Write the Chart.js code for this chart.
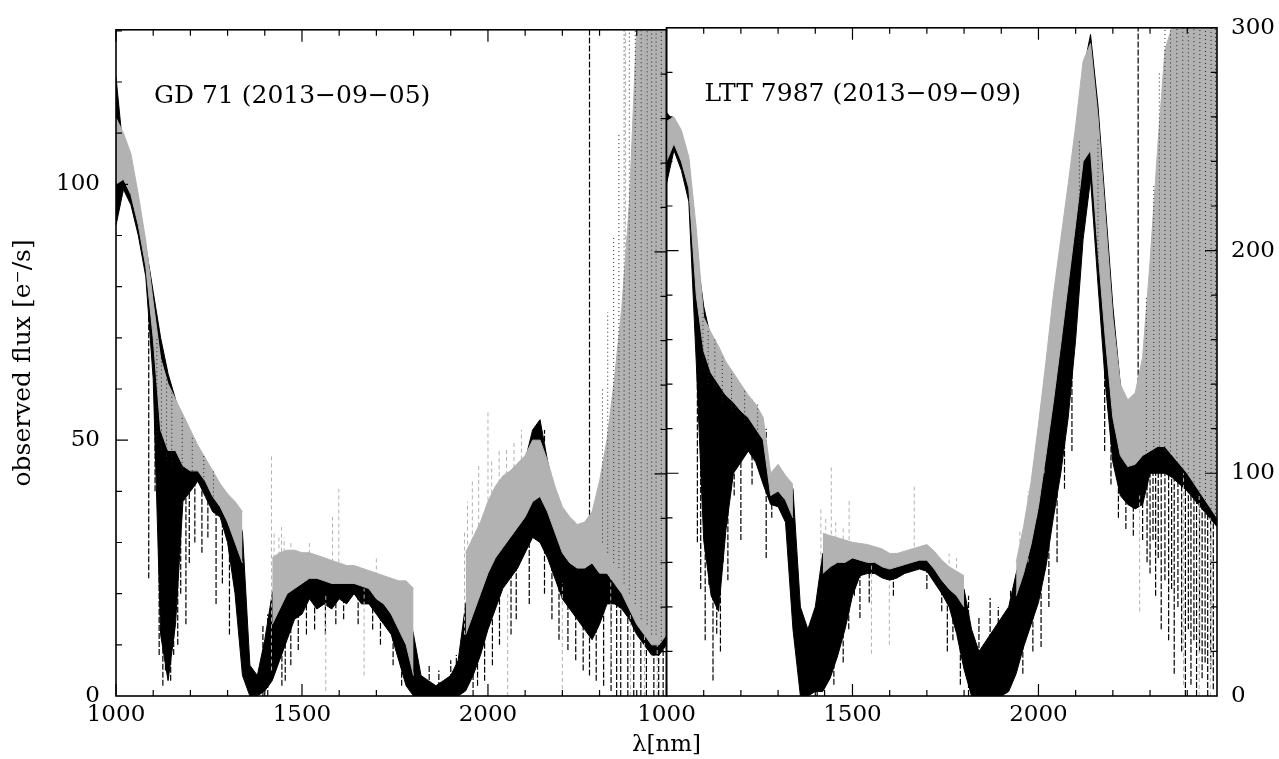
<!DOCTYPE html>
<html>
<head>
<meta charset="utf-8">
<script src="https://cdn.jsdelivr.net/npm/chart.js@4.4.1/dist/chart.umd.min.js"></script>
<style>
  body { margin: 0; background: #fff; width: 1279px; height: 759px; overflow: hidden; position: relative; }
  canvas { position: absolute; top: 0; }
  #leftChart { left: 0; }
  #rightChart { left: 600px; }
</style>
</head>
<body>
<canvas id="leftChart" width="668" height="759"></canvas>
<canvas id="rightChart" width="679" height="759"></canvas>
<script>
// wavelength grid (nm), shared by both panels
var wavelengths = [
  1000,1020,1040,1060,1080,1100,1120,1140,1160,1180,
  1200,1220,1240,1260,1280,1300,1320,1340,1360,1380,
  1400,1420,1440,1460,1480,1500,1520,1540,1560,1580,
  1600,1620,1640,1660,1680,1700,1720,1740,1760,1780,
  1800,1820,1840,1860,1880,1900,1920,1940,1960,1980,
  2000,2020,2040,2060,2080,2100,2120,2140,2160,2180,
  2200,2220,2240,2260,2280,2300,2320,2340,2360,2380,
  2400,2420,2440,2460,2480
];

// GD 71 (2013-09-05), e-/s : dense core of the black spectra
var gdBlackLo = [
  92, 99, 96, 90, 82, 62, 12, 3, 14, 38,
  40, 42, 39, 36, 35, 30, 20, 4, 0, 0,
  1, 3, 7, 11, 15, 16, 19, 17, 18, 17,
  19, 18, 20, 18, 18, 16, 14, 12, 7, 2,
  0, 0, 0, 0, 0, 0, 0, 1, 4, 8,
  13, 17, 21, 23, 25, 28, 31, 30, 27, 23,
  19, 17, 15, 13, 11, 14, 18, 18, 17, 15,
  12, 10, 8, 8, 10
];
var gdBlackHi = [
  121, 106, 103, 96, 88, 79, 70, 63, 58, 51,
  48, 47, 46, 43, 41, 39, 37, 32, 6, 4,
  11, 20, 24, 25, 25.5, 26, 26, 25.5, 25, 25,
  24.5, 24, 24, 24, 23.5, 23, 22, 21, 20, 18,
  12, 4, 3, 2, 3, 4, 7, 18, 22, 27,
  31, 35, 38, 40, 42, 46, 52, 54, 46, 39,
  34, 31, 29, 29, 31, 34, 40, 48, 56, 66,
  76, 88, 100, 115, 125
];
// GD 71 : grey spectra envelope
var gdGreyLo = [
  100, 101, 98, 92, 84, 70, 52, 48, 48, 45,
  44, 44, 42, 39, 37, 34, 30, 26, null, null,
  null, 14, 17, 20, 21, 22, 23, 23, 22.5, 22,
  22, 22, 22, 21.5, 21, 19, 18, 16, 13, 10,
  4, null, null, null, null, null, null, 12, 16, 20,
  24, 27, 29, 31, 33, 35, 38, 39, 36, 32,
  28, 26, 25, 25, 26, 24, 24, 22, 20, 17,
  14, 12, 10, 10, 12
];
var gdGreyHi = [
  113, 110, 106, 98, 89, 77, 66, 61, 58, 55,
  52, 49, 46.5, 44, 41.5, 39.5, 38, 36, null, null,
  null, 27, 28, 28.5, 28.5, 28, 28, 27.5, 27, 26.5,
  26, 25.5, 25.5, 25, 24.5, 24, 23.5, 23, 22.5, 22.5,
  21, null, null, null, null, null, null, 28, 31, 34,
  38, 41, 43, 44, 45.5, 47, 50, 50, 46, 41,
  37, 35, 33.5, 34, 36, 42, 50, 62, 76, 96,
  131, 131, 131, 131, 131
];
// single spectral spikes [wavelength, from, to]
var gdBlackSpikes = [
  [1088, 23, 75], [1105, 40, 70], [1116, 8, 62], [1126, 2, 60], [1133, 5, 60], [1147, 3, 60],
  [1155, 8, 58], [1166, 10, 50], [1174, 20, 50], [1188, 14, 42], [1197, 26, 46], [1212, 30, 45],
  [1231, 28, 44], [1247, 31, 42], [1269, 18, 40], [1286, 22, 38], [1305, 12, 36],
  [1395, 0, 14], [1408, 0, 16], [1446, 2, 22], [1455, 3, 24], [1470, 6, 24], [1490, 9, 25],
  [1512, 12, 24], [1534, 13, 24], [1563, 12, 23], [1591, 14, 23], [1612, 15, 24],
  [1651, 14, 24], [1690, 13, 22], [1711, 10, 22], [1745, 6, 20], [1768, 2, 18],
  [1842, 0, 6], [1868, 0, 5], [1900, 0, 7], [1915, 0, 8], [1960, 0, 20], [1972, 2, 24],
  [1991, 3, 27], [2012, 6, 32], [2031, 10, 35], [2062, 12, 38], [2076, 15, 40],
  [2111, 18, 46], [2152, 20, 52], [2172, 15, 40], [2191, 11, 35], [2215, 9, 30],
  [2236, 7, 29], [2256, 5, 28], [2273, 4, 131], [2291, 3, 30], [2311, 2, 34],
  [2331, 1, 40], [2346, 0, 45], [2357, 0, 50], [2376, 0, 60], [2392, 0, 70],
  [2411, 0, 80], [2426, 0, 90], [2446, 0, 100], [2459, 0, 110], [2471, 0, 120]
];
var gdGreySpikes = [
  [1418, 5, 47], [1425, 20, 32], [1438, 22, 31], [1445, 20, 33], [1452, 24, 31], [1470, 25, 30],
  [1520, 25, 30], [1564, 1, 20], [1582, 22, 35], [1599, 22, 40.5], [1667, 4, 21], [1700, 22, 27],
  [1937, 12, 32], [1945, 20, 38], [1958, 22, 42], [1975, 25, 45], [2000, 30, 55.6],
  [2010, 30, 46], [2030, 32, 48], [2050, 35, 48.6], [2053, 0, 20], [2070, 35, 50], [2090, 38, 52],
  [2200, 0, 22], [2330, 5, 40], [2370, 40, 131], [2383, 0, 30], [2421, 0, 25], [2455, 0, 20]
];
// black dotted spectra seen through the grey band
var gdDotSpikes = [
  [1110, 50, 70], [1122, 48, 66], [1136, 46, 62], [1150, 45, 60], [1178, 44, 55], [1205, 44, 51],
  [1236, 42, 47], [1262, 39, 44],
  [2308, 30, 60], [2322, 28, 75], [2338, 26, 90], [2352, 25, 110], [2366, 22, 131],
  [2380, 20, 131], [2396, 18, 131], [2412, 15, 131], [2428, 14, 131], [2440, 12, 131],
  [2452, 12, 131], [2466, 10, 131]
];

// LTT 7987 (2013-09-09), e-/s
var lttBlackLo = [
  230, 245, 236, 222, 150, 70, 45, 38, 75, 100,
  105, 110, 105, 95, 86, 85, 78, 30, 0, 0,
  2, 2, 8, 18, 30, 45, 54, 55, 55, 53,
  52, 53, 55, 56, 57, 56, 51, 46, 40, 28,
  12, 0, 0, 0, 0, 0, 2, 10, 22, 32,
  42, 58, 80, 100, 125, 160, 205, 232, 185, 140,
  105, 90, 86, 84, 86, 100, 100, 100, 98, 95,
  92, 88, 84, 80, 76
];
var lttBlackHi = [
  262, 258, 252, 240, 200, 175, 160, 155, 148, 142,
  137, 133, 128, 122, 97, 102, 98, 93, 40, 30,
  40, 64, 66, 66, 66, 66, 65, 64, 63, 62,
  61, 62, 63, 64, 65, 66, 63, 58, 55, 52,
  48, 30, 20, 25, 30, 35, 40, 55, 68, 85,
  105, 135, 165, 190, 215, 245, 280, 297, 265, 220,
  175, 140, 128, 130, 145, 165, 185, 205, 225, 240,
  255, 265, 275, 285, 295
];
var lttGreyLo = [
  240, 248, 240, 228, 180, 155, 145, 140, 135, 132,
  128, 125, 120, 115, 90, 92, 88, 80, null, null,
  null, 55, 58, 60, 60, 62, 61, 60, 60, 58,
  57, 58, 59, 60, 61, 61, 57, 52, 48, 45,
  40, null, null, null, null, null, null, 45, 55, 68,
  85, 108, 132, 158, 185, 212, 240, 245, 200, 160,
  125, 108, 103, 104, 108, 110, 112, 112, 108, 104,
  100, 95, 90, 85, 80
];
var lttGreyHi = [
  258, 260, 254, 242, 210, 170, 163, 157, 150, 145,
  140, 135, 131, 125, 100, 104, 99, 95, null, null,
  null, 73, 72, 71, 70, 69, 68.5, 68, 67, 66,
  64, 64, 65, 66, 67, 68, 65, 61, 58, 56,
  54, null, null, null, null, null, null, 60, 76, 96,
  122, 150, 180, 205, 230, 256, 285, 293, 260, 215,
  170, 140, 133, 136, 152, 195, 245, 290, 301, 301,
  301, 301, 301, 301, 301
];
var lttBlackSpikes = [
  [1083, 69, 200], [1092, 48, 175], [1104, 25, 165], [1114, 50, 160], [1125, 7, 155],
  [1135, 28, 155], [1145, 20, 152], [1152, 60, 150], [1165, 52, 147], [1182, 90, 142],
  [1200, 70, 137], [1230, 95, 133], [1268, 62, 120], [1283, 80, 97], [1330, 60, 95],
  [1405, 0, 44], [1425, 0, 60], [1432, 10, 64], [1450, 5, 66], [1462, 20, 66],
  [1475, 15, 66], [1490, 30, 66], [1505, 45, 66], [1520, 35, 64], [1545, 42, 62],
  [1610, 45, 60], [1700, 48, 64], [1740, 38, 58], [1755, 20, 55], [1770, 25, 54],
  [1790, 5, 52], [1812, 0, 45], [1840, 0, 35], [1870, 0, 44], [1892, 0, 40],
  [1905, 0, 36], [1925, 5, 48], [1958, 10, 68], [1985, 20, 85], [2007, 22, 105],
  [2028, 40, 135], [2050, 60, 160], [2070, 93, 190], [2090, 110, 215], [2178, 110, 220],
  [2195, 95, 175], [2215, 80, 140], [2235, 75, 130], [2255, 72, 130], [2268, 90, 301],
  [2280, 70, 145], [2292, 60, 150], [2300, 55, 165], [2308, 70, 170], [2315, 45, 180],
  [2322, 62, 185], [2330, 30, 190], [2340, 52, 200], [2350, 25, 205], [2358, 48, 210],
  [2365, 10, 220], [2375, 40, 230], [2385, 20, 240], [2395, 0, 250], [2403, 30, 250],
  [2410, 5, 255], [2418, 25, 260], [2425, 0, 265], [2433, 20, 270], [2440, 8, 275],
  [2448, 15, 278], [2455, 0, 280], [2463, 12, 285], [2470, 3, 290]
];
var lttGreySpikes = [
  [1415, 60, 85], [1428, 62, 80], [1443, 60, 103], [1455, 64, 78], [1475, 64, 76], [1491, 70, 88],
  [1551, 19, 67], [1599, 23, 51], [1666, 64, 94], [1760, 50, 64], [1780, 48, 62],
  [1950, 50, 75], [1972, 60, 92], [1995, 80, 115], [2015, 100, 140],
  [2272, 38, 90], [2390, 5, 100], [2432, 0, 90], [2462, 0, 80]
];
var lttDotSpikes = [
  [1098, 150, 172], [1112, 140, 165], [1130, 138, 160], [1150, 132, 152], [1175, 128, 146],
  [1210, 122, 138], [1245, 116, 131],
  [2110, 200, 250], [2160, 190, 250], [2290, 110, 180], [2310, 110, 230], [2325, 112, 280],
  [2340, 110, 301], [2355, 108, 301], [2372, 105, 301], [2388, 102, 301], [2403, 100, 301],
  [2418, 96, 301], [2434, 92, 301], [2449, 88, 301], [2464, 84, 301], [2476, 80, 301]
];

var xTicks = [1000, 1500, 2000];
var gdTicks = [0, 50, 100];
var lttTicks = [0, 100, 200, 300];

var GREY = 'rgb(178,178,178)';
var FONT = 'DejaVu Serif';

function toPoints(ys) {
    return wavelengths.map((w, i) => ({ x: w, y: ys[i] }));
}
function spikePoints(list) {
    var pts = [];
    list.forEach(s => {
        pts.push({ x: s[0], y: s[1] }, { x: s[0], y: s[2] }, { x: s[0], y: null });
    });
    return pts;
}
function makeDatasets(bLo, bHi, gLo, gHi, bSp, gSp, dSp) {
    var base = { pointRadius: 0, borderWidth: 1, tension: 0, spanGaps: false };
    return [
        Object.assign({}, base, { data: toPoints(bLo), borderColor: '#000', fill: false, order: 6 }),
        Object.assign({}, base, { data: toPoints(bHi), borderColor: '#000', backgroundColor: '#000', fill: '-1', order: 5 }),
        Object.assign({}, base, { data: spikePoints(bSp), borderColor: '#000', borderWidth: 1.2, borderDash: [6, 2], fill: false, order: 4 }),
        Object.assign({}, base, { data: toPoints(gLo), borderColor: GREY, fill: false, order: 3 }),
        Object.assign({}, base, { data: toPoints(gHi), borderColor: GREY, backgroundColor: GREY, fill: '-1', order: 2 }),
        Object.assign({}, base, { data: spikePoints(gSp), borderColor: GREY, borderDash: [4, 3], fill: false, order: 1 }),
        Object.assign({}, base, { data: spikePoints(dSp), borderColor: '#222', borderDash: [1, 3], fill: false, order: 0 })
    ];
}

// frame with inward ticks on all four sides, plus panel label
var framePlugin = {
    id: 'frame',
    afterDatasetsDraw(chart, args, opts) {
        var ctx = chart.ctx, a = chart.chartArea, x = chart.scales.x;
        var yl = chart.scales[opts.leftAxis], yr = chart.scales[opts.rightAxis];
        ctx.save();
        ctx.strokeStyle = '#000';
        ctx.lineWidth = 1.2;
        ctx.beginPath();
        for (var v = 1000; v <= x.max; v += 100) {
            var px = x.getPixelForValue(v);
            var len = v % 500 === 0 ? 12 : 6;
            ctx.moveTo(px, a.bottom); ctx.lineTo(px, a.bottom - len);
            ctx.moveTo(px, a.top); ctx.lineTo(px, a.top + len);
        }
        for (var v = opts.leftMinor; v < yl.max; v += opts.leftMinor) {
            var py = yl.getPixelForValue(v);
            var len = v % opts.leftMajor === 0 ? 12 : 6;
            ctx.moveTo(a.left, py); ctx.lineTo(a.left + len, py);
        }
        for (var v = opts.rightMinor; v < yr.max; v += opts.rightMinor) {
            var py = yr.getPixelForValue(v);
            var len = v % opts.rightMajor === 0 ? 12 : 6;
            ctx.moveTo(a.right, py); ctx.lineTo(a.right - len, py);
        }
        ctx.stroke();
        ctx.lineWidth = 1.6;
        ctx.strokeRect(a.left, a.top, a.right - a.left, a.bottom - a.top);
        ctx.fillStyle = '#000';
        ctx.textBaseline = 'middle';
        ctx.font = '25px "' + FONT + '"';
        ctx.fillText(opts.label, a.left + 38, a.top + 67);
        if (opts.xTitle) {
            ctx.textAlign = 'center';
            ctx.font = '23px "' + FONT + '"';
            ctx.fillText(opts.xTitle, a.left, a.bottom + 49);
        }
        ctx.restore();
    }
};

function xScale() {
    return {
        type: 'linear', min: 1000, max: 2480,
        afterBuildTicks: s => { s.ticks = xTicks.map(v => ({ value: v })); },
        ticks: { font: { family: FONT, size: 23 }, color: '#000', padding: 5, maxRotation: 0, autoSkip: false,
                 callback: v => String(v) },
        grid: { display: false, drawTicks: false },
        border: { display: false },
        afterFit: s => { s.height = 63; }
    };
}

var leftChart = new Chart(document.getElementById('leftChart'), {
    type: 'line',
    data: { datasets: makeDatasets(gdBlackLo, gdBlackHi, gdGreyLo, gdGreyHi, gdBlackSpikes, gdGreySpikes, gdDotSpikes) },
    plugins: [framePlugin],
    options: {
        responsive: false, animation: false, events: [],
        layout: { padding: { top: 19, right: 1.5, left: 0, bottom: 0 } },
        plugins: {
            legend: { display: false }, tooltip: { enabled: false },
            frame: { leftAxis: 'y', leftMinor: 10, leftMajor: 50, rightAxis: 'yr', rightMinor: 20, rightMajor: 100,
                     label: 'GD 71 (2013\u221209\u221205)' }
        },
        scales: {
            x: xScale(),
            y: {
                position: 'left', min: 0, max: 130.2,
                afterBuildTicks: s => { s.ticks = gdTicks.map(v => ({ value: v })); },
                ticks: { font: { family: FONT, size: 23 }, color: '#000', padding: 16, callback: v => String(v) },
                grid: { display: false, drawTicks: false },
                border: { display: false },
                title: { display: true, text: 'observed flux [e\u207B/s]', color: '#000',
                         font: { family: FONT, size: 25 }, padding: { top: 8, bottom: 0 } },
                afterFit: s => { s.width = 116; }
            },
            yr: { position: 'right', display: false, min: 0, max: 300 }
        }
    }
});

var rightChart = new Chart(document.getElementById('rightChart'), {
    type: 'line',
    data: { datasets: makeDatasets(lttBlackLo, lttBlackHi, lttGreyLo, lttGreyHi, lttBlackSpikes, lttGreySpikes, lttDotSpikes) },
    plugins: [framePlugin],
    options: {
        responsive: false, animation: false, events: [],
        layout: { padding: { top: 19, right: 0, left: 66.5, bottom: 0 } },
        plugins: {
            legend: { display: false }, tooltip: { enabled: false },
            frame: { leftAxis: 'y', leftMinor: 20, leftMajor: 100, rightAxis: 'y', rightMinor: 20, rightMajor: 100,
                     label: 'LTT 7987 (2013\u221209\u221209)', xTitle: '\u03BB[nm]' }
        },
        scales: {
            x: xScale(),
            y: {
                position: 'right', min: 0, max: 300,
                afterBuildTicks: s => { s.ticks = lttTicks.map(v => ({ value: v })); },
                ticks: { font: { family: FONT, size: 23 }, color: '#000', padding: 14, callback: v => String(v) },
                grid: { display: false, drawTicks: false },
                border: { display: false },
                afterFit: s => { s.width = 62; }
            }
        }
    }
});
</script>
</body>
</html>
